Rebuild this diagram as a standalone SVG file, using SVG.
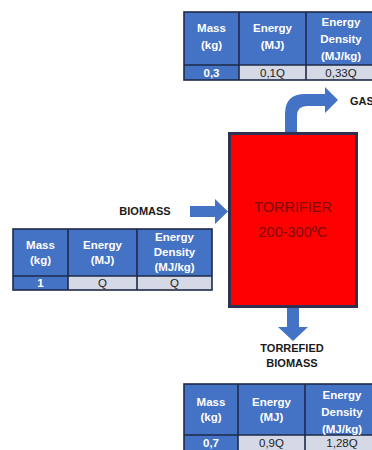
<svg xmlns="http://www.w3.org/2000/svg" width="372" height="450" viewBox="0 0 372 450">
<style>
.hd{fill:#4472c4}
.dl{fill:#d5d9e6}
.ln{stroke:#1e2a48;stroke-width:1.6;fill:none}
.ht{font-family:"Liberation Sans",Arial,sans-serif;font-weight:bold;font-size:11.5px;fill:#ffffff;text-anchor:middle}
.dt{font-family:"Liberation Sans",Arial,sans-serif;font-size:11.5px;fill:#222222;text-anchor:middle}
.lb{font-family:"Liberation Sans",Arial,sans-serif;font-weight:bold;font-size:11px;fill:#1a1a1a;text-anchor:middle}
.arr{fill:#4472c4}
.tt{font-family:"Liberation Sans",Arial,sans-serif;font-size:14.5px;fill:#7e0c0c;text-anchor:middle}
</style>
<rect width="372" height="450" fill="#ffffff"/>

<g id="connectors">
  <path class="arr" d="M190,206 L215,206 L215,199 L228,211.5 L215,224 L215,217 L190,217 Z"/>
  <path class="arr" d="M285,133 L285,114 Q285,94 305,94 L325,94 L325,87 L338,100 L325,113 L325,106 L307,106 Q297,106 297,116 L297,133 Z"/>
  <path class="arr" d="M287,307 L299,307 L299,327 L308,327 L293,341 L278,327 L287,327 Z"/>
</g>

<g id="torrifier">
  <rect x="229.5" y="133.5" width="127" height="173" fill="#ff0000" stroke="#2e3250" stroke-width="3"/>
  <text class="tt" x="293" y="212">TORRIFIER</text>
  <text class="tt" x="293" y="237">200-300ºC</text>
</g>

<g id="label-biomass">
  <text class="lb" x="145" y="215" font-size="11.5">BIOMASS</text>
</g>
<g id="label-gas">
  <text class="lb" x="350" y="105" style="text-anchor:start">GAS</text>
</g>
<g id="label-torrefied">
  <text class="lb" x="292" y="352">TORREFIED</text>
  <text class="lb" x="292" y="367">BIOMASS</text>
</g>

<g id="table-gas">
  <rect class="hd" x="184" y="12" width="192" height="68"/>
  <rect class="dl" x="239" y="65" width="137" height="15"/>
  <rect class="ln" x="184" y="12" width="192" height="68"/>
  <path class="ln" d="M239,12 V80 M306,12 V80 M184,65 H376"/>
  <text class="ht" x="211.5" y="32">Mass</text>
  <text class="ht" x="211.5" y="49">(kg)</text>
  <text class="ht" x="272.5" y="32">Energy</text>
  <text class="ht" x="272.5" y="49">(MJ)</text>
  <text class="ht" x="341" y="26">Energy</text>
  <text class="ht" x="341" y="43">Density</text>
  <text class="ht" x="341" y="60">(MJ/kg)</text>
  <text class="ht" x="211.5" y="76.5">0,3</text>
  <text class="dt" x="272.5" y="76.5">0,1Q</text>
  <text class="dt" x="341" y="76.5">0,33Q</text>
</g>

<g id="table-biomass">
  <rect class="hd" x="13" y="229" width="199" height="61"/>
  <rect class="dl" x="68" y="276" width="144" height="14"/>
  <rect class="ln" x="13" y="229" width="199" height="61"/>
  <path class="ln" d="M68,229 V290 M137,229 V290 M13,276 H212"/>
  <text class="ht" x="40.5" y="249">Mass</text>
  <text class="ht" x="40.5" y="264">(kg)</text>
  <text class="ht" x="102.5" y="249">Energy</text>
  <text class="ht" x="102.5" y="264">(MJ)</text>
  <text class="ht" x="174.5" y="241">Energy</text>
  <text class="ht" x="174.5" y="256">Density</text>
  <text class="ht" x="174.5" y="271">(MJ/kg)</text>
  <text class="ht" x="40.5" y="287">1</text>
  <text class="dt" x="102.5" y="287">Q</text>
  <text class="dt" x="174.5" y="287">Q</text>
</g>

<g id="table-torrefied">
  <rect class="hd" x="184" y="384" width="194" height="70"/>
  <rect class="dl" x="238" y="435" width="140" height="19"/>
  <rect class="ln" x="184" y="384" width="194" height="70"/>
  <path class="ln" d="M238,384 V454 M305,384 V454 M184,435 H378"/>
  <text class="ht" x="211" y="406">Mass</text>
  <text class="ht" x="211" y="421">(kg)</text>
  <text class="ht" x="271.5" y="406">Energy</text>
  <text class="ht" x="271.5" y="421">(MJ)</text>
  <text class="ht" x="342" y="399">Energy</text>
  <text class="ht" x="342" y="416">Density</text>
  <text class="ht" x="342" y="433">(MJ/kg)</text>
  <text class="ht" x="211" y="447">0,7</text>
  <text class="dt" x="271.5" y="447">0,9Q</text>
  <text class="dt" x="342" y="447">1,28Q</text>
</g>
</svg>
